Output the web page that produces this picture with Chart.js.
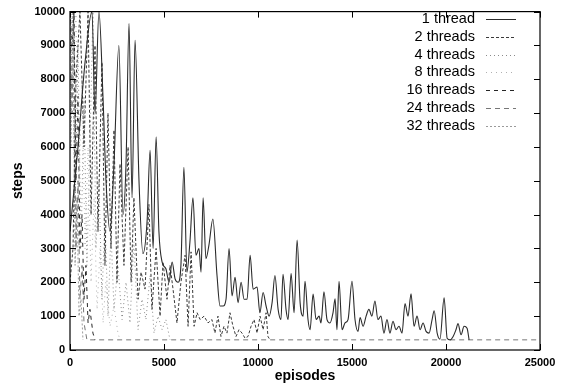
<!DOCTYPE html>
<html>
<head>
<meta charset="utf-8">
<script src="https://cdn.jsdelivr.net/npm/chart.js@4/dist/chart.umd.min.js"></script>
<style>
  body { margin: 0; background: #fff; }
  #wrap { width: 563px; height: 386px; position: relative; }
</style>
</head>
<body>
<div id="wrap"><canvas id="chart"></canvas></div>
<script>
// episodes / steps, one pair of arrays per series
const seriesLabels = ["1 thread", "2 threads", "4 threads", "8 threads", "16 threads", "24 threads", "32 threads"];

const ep1 = [0, 425, 800, 1170, 1330, 1540, 1760, 1915, 2130, 2340, 2600, 2820, 2980, 3140, 3300, 3460, 3670, 3880, 4100, 4260,
  4420, 4580, 4730, 4900, 5100, 5270, 5430, 5590, 5750, 5900, 6060, 6220, 6380, 6540, 6700, 6860, 6970, 7080, 7230, 7390,
  7600, 7820, 7980, 8140, 8300, 8460, 8620, 8780, 8940, 9100, 9260, 9420, 9580, 9740, 9950, 10100, 10270, 10430, 10590, 10750,
  10900, 11070, 11220, 11330, 11490, 11600, 11760, 11920, 12080, 12240, 12400, 12500, 12660, 12770, 12930, 13090, 13250, 13350, 13510, 13670,
  13830, 13990, 14100, 14200, 14310, 14470, 14630, 14790, 15000, 15160, 15320, 15430, 15590, 15750, 15900, 16060, 16220, 16380, 16540, 16700,
  16860, 17020, 17180, 17340, 17500, 17660, 17820, 17980, 18140, 18300, 18460, 18620, 18780, 18940, 19100, 19260, 19370, 19530, 19680, 19900,
  20060, 20220, 20380, 20530, 20640, 20800, 20960, 21120, 21230];
const steps1 = [3500, 6000, 8500, 10000, 7000, 10000, 7400, 5000, 3500, 5500, 9000, 4000, 5500, 9650, 4500, 9150, 5000, 2850, 3800, 5900,
  3000, 6300, 3500, 2600, 2400, 2000, 2600, 2100, 2000, 2500, 5400, 2300, 3200, 4500, 2800, 3000, 2300, 4500, 2700, 3100,
  3870, 2200, 1300, 1300, 1500, 3000, 1600, 2150, 1400, 2000, 1500, 1500, 2800, 1800, 1860, 1100, 1700, 1300, 1000, 1400,
  2200, 1200, 900, 2240, 1200, 900, 2260, 1100, 3250, 1400, 1000, 2030, 900, 600, 1650, 900, 1000, 800, 1720, 900,
  800, 1100, 1510, 600, 2030, 600, 800, 900, 2030, 900, 550, 960, 700, 1000, 1200, 1000, 1450, 900, 1000, 500,
  900, 500, 850, 600, 700, 500, 1370, 1000, 1660, 700, 1000, 600, 800, 550, 500, 900, 1160, 500, 320, 1540,
  350, 300, 400, 600, 780, 450, 700, 640, 300];

const ep2 = [0, 160, 320, 530, 745, 960, 1120, 1330, 1490, 1700, 1860, 2020, 2180, 2340, 2500, 2660, 2870, 3090, 3250, 3400,
  3620, 3780, 3990, 4200, 4360, 4580, 4790, 4950, 5160, 5320, 5480, 5690, 5900, 6120, 6280, 6440, 6600, 6760, 6920, 7130,
  7340, 7550, 7710, 7870, 8030, 8190, 8350, 8510, 8670, 8830, 8990, 9150, 9310, 9470, 9630, 9790, 9950, 10110, 10270, 10430,
  10530, 10640];
const steps2 = [2000, 3000, 8000, 10000, 6000, 10000, 4000, 9000, 3500, 8500, 2500, 7000, 3000, 6500, 2000, 5500, 2500, 6000, 2000, 4500,
  1500, 2300, 1800, 4300, 1200, 3000, 1000, 2600, 1500, 2500, 1800, 800, 2000, 2800, 700, 2900, 700, 1100, 900, 1000,
  800, 900, 500, 1000, 400, 700, 500, 1100, 700, 400, 600, 500, 350, 400, 700, 900, 500, 1000, 600, 1100,
  400, 300];

const ep4 = [0, 110, 270, 425, 585, 745, 900, 1060, 1220, 1380, 1540, 1700, 1860, 2020, 2180, 2340, 2550, 2770, 2980, 3190,
  3400, 3620, 3830, 4040, 4260, 4470, 4680, 4900, 5100, 5320];
const steps4 = [6000, 10000, 4000, 9000, 3000, 7500, 2500, 6000, 10000, 3000, 5000, 1500, 4000, 1000, 3500, 1200, 2500, 900, 2000, 800,
  3200, 600, 1500, 900, 2200, 500, 1000, 600, 900, 300];

const ep8 = [0, 160, 320, 480, 640, 800, 960, 1120, 1280, 1440, 1600, 1760, 1900, 2130, 2340, 2550, 2660];
const steps8 = [10000, 8000, 10000, 5000, 8000, 3000, 6000, 2000, 4500, 1200, 3000, 800, 2000, 700, 1300, 500, 300];

const ep16 = [0, 110, 210, 320, 425, 530, 640, 745, 850, 960, 1060, 1220, 1330];
const steps16 = [10000, 9000, 10000, 5000, 7500, 3000, 4000, 1500, 2500, 800, 1200, 500, 300];

const ep24 = [0, 110, 210, 320, 425, 530, 640, 745, 900, 25000];
const steps24 = [10000, 7000, 10000, 3000, 5000, 1500, 2500, 800, 300, 300];

const ep32 = [0, 50, 160, 270, 370, 480, 585, 690];
const steps32 = [10000, 6000, 10000, 2500, 4500, 1000, 1500, 300];

const xTicks = [0, 5000, 10000, 15000, 20000, 25000];
const yTicks = [0, 1000, 2000, 3000, 4000, 5000, 6000, 7000, 8000, 9000, 10000];

const lineColors = ["#2b2b2b", "#3a3a3a", "#8a8a8a", "#b0b0b0", "#262626", "#777777", "#9a9a9a"];
const lineDashes = [[], [3, 2], [1, 3], [1, 4], [4, 4], [5, 4], [2, 2]];

function zip(xs, ys) {
    return xs.map((x, i) => ({ x: x, y: ys[i] }));
}

const allSeries = [
    zip(ep1, steps1), zip(ep2, steps2), zip(ep4, steps4), zip(ep8, steps8),
    zip(ep16, steps16), zip(ep24, steps24), zip(ep32, steps32)
];

// frame, inward ticks and the in-plot legend
const framePlugin = {
    id: "frame",
    afterDraw(chart) {
        const ctx = chart.ctx;
        const a = chart.chartArea;
        const xs = chart.scales.x;
        const ys = chart.scales.y;
        ctx.save();
        ctx.strokeStyle = "#000";
        ctx.lineWidth = 1.2;
        ctx.strokeRect(a.left, a.top, a.right - a.left, a.bottom - a.top);
        ctx.lineWidth = 1;
        ctx.beginPath();
        xTicks.forEach(v => {
            const px = Math.round(xs.getPixelForValue(v)) + 0.5;
            ctx.moveTo(px, a.bottom); ctx.lineTo(px, a.bottom - 6);
            ctx.moveTo(px, a.top); ctx.lineTo(px, a.top + 6);
        });
        yTicks.forEach(v => {
            const py = Math.round(ys.getPixelForValue(v)) + 0.5;
            ctx.moveTo(a.left, py); ctx.lineTo(a.left + 6, py);
            ctx.moveTo(a.right, py); ctx.lineTo(a.right - 6, py);
        });
        ctx.stroke();

        // legend
        ctx.font = "14.5px 'Liberation Sans', Arial, sans-serif";
        ctx.textAlign = "right";
        ctx.textBaseline = "middle";
        chart.data.datasets.forEach((ds, i) => {
            const y = 19 + i * 17.8;
            ctx.fillStyle = "#000";
            ctx.fillText(ds.label, 475, y);
            ctx.strokeStyle = ds.borderColor;
            ctx.setLineDash(ds.borderDash);
            ctx.beginPath();
            ctx.moveTo(486, Math.round(y) + 0.5);
            ctx.lineTo(516, Math.round(y) + 0.5);
            ctx.stroke();
        });
        ctx.restore();
    }
};

const tickFont = { family: "'Liberation Sans', Arial, sans-serif", size: 11, weight: "bold" };
const titleFont = { family: "'Liberation Sans', Arial, sans-serif", size: 14, weight: "bold" };

new Chart(document.getElementById("chart"), {
    type: "line",
    data: {
        datasets: seriesLabels.map((label, i) => ({
            label: label,
            data: allSeries[i],
            borderColor: lineColors[i],
            borderDash: lineDashes[i],
            borderWidth: i === 0 ? 1.1 : 1,
            pointRadius: 0,
            cubicInterpolationMode: i === 0 ? "monotone" : "default",
            tension: 0,
            fill: false
        }))
    },
    options: {
        responsive: true,
        maintainAspectRatio: false,
        animation: false,
        layout: { padding: { top: 6, right: 23, left: 0, bottom: 0 } },
        plugins: {
            legend: { display: false },
            tooltip: { enabled: false }
        },
        scales: {
            x: {
                type: "linear",
                min: 0,
                max: 25000,
                grid: { display: false, drawTicks: false },
                border: { display: false },
                afterBuildTicks: s => { s.ticks = xTicks.map(v => ({ value: v })); },
                afterFit: s => { s.height = 36; },
                ticks: { color: "#000", font: tickFont, padding: 6, maxRotation: 0, callback: v => String(v) },
                title: { display: true, text: "episodes", color: "#000", font: titleFont, padding: { top: 0, bottom: 1 } }
            },
            y: {
                min: 0,
                max: 10000,
                grid: { display: false, drawTicks: false },
                border: { display: false },
                afterBuildTicks: s => { s.ticks = yTicks.map(v => ({ value: v })); },
                afterFit: s => { s.width = 70; },
                ticks: { color: "#000", font: tickFont, padding: 5, callback: v => String(v) },
                title: { display: true, text: "steps", color: "#000", font: titleFont, padding: { top: 10, bottom: 0 } }
            }
        }
    },
    plugins: [framePlugin]
});
</script>
</body>
</html>
